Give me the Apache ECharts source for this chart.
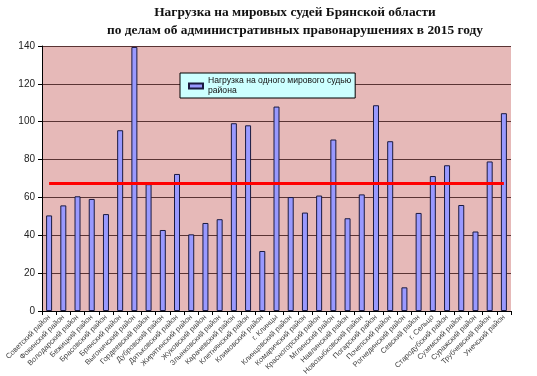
<!DOCTYPE html>
<html>
<head>
<meta charset="utf-8">
<script src="https://cdn.jsdelivr.net/npm/echarts@6/dist/echarts.min.js"></script>
<style>
  html, body { margin: 0; padding: 0; background: #fff; }
  #chart { width: 537px; height: 376px; }
</style>
</head>
<body>
<div id="chart"></div>
<script>
// районы
const districts = [
  'Советский район', 'Фокинский район', 'Володарский район', 'Бежицкий район',
  'Брасовский район', 'Брянский район', 'Выгоничский район', 'Гордеевский район',
  'Дубровский район', 'Дятьковский район', 'Жирятинский район', 'Жуковский район',
  'Злынковский район', 'Карачевский район', 'Клетнянский район', 'Климовский район',
  'г. Клинцы', 'Клинцовский район', 'Комаричский район', 'Красногорский район',
  'Мглинский район', 'Навлинский район', 'Новозыбковский район', 'Погарский район',
  'Почепский район', 'Рогнединский район', 'Севский район', 'г. Сельцо',
  'Стародубский район', 'Суземский район', 'Суражский район', 'Трубчевский район',
  'Унечский район'
]
// нагрузка на одного мирового судью
const loadValues = [
  50.5, 55.8, 60.6, 59.2, 51.2, 95.5, 139.5, 67, 42.8, 72.4,
  40.5, 46.5, 48.5, 99.2, 98.1, 31.7, 108, 60.2, 52, 61,
  90.6, 49, 61.6, 108.7, 89.7, 12.5, 51.8, 71.3, 77, 56,
  42, 79, 104.5
]
// средняя нагрузка по области
const averageLoad = 67.4
const yTicks = { min: 0, max: 140, interval: 20 }

const chart = echarts.init(document.getElementById('chart'))

const option = {
  animation: false,
  title: {
    text: 'Нагрузка на мировых судей Брянской области\nпо делам об административных правонарушениях в 2015 году',
    left: 290,
    top: -1,
    textAlign: 'center',
    textStyle: {
      fontFamily: 'Liberation Serif',
      fontSize: 13.4,
      fontWeight: 'bold',
      color: '#111',
      lineHeight: 18
    }
  },
  legend: {
    data: ['Нагрузка на одного мирового судью района'],
    left: 180,
    top: 73,
    orient: 'vertical',
    backgroundColor: '#ccffff',
    borderColor: '#000',
    borderWidth: 1,
    borderRadius: 0,
    padding: [3, 4, 2, 8],
    itemWidth: 14,
    itemHeight: 5,
    itemGap: 0,
    icon: 'rect',
    formatter: () => 'Нагрузка на одного мирового судью\nрайона',
    textStyle: { fontFamily: 'Liberation Sans', fontSize: 8.6, color: '#111', lineHeight: 10 }
  },
  grid: {
    left: 42,
    right: 26,
    top: 46,
    bottom: 65,
    outerBoundsMode: 'none',
    containLabel: false,
    show: true,
    backgroundColor: '#e6b9b8',
    borderWidth: 0
  },
  xAxis: {
    type: 'category',
    data: districts,
    boundaryGap: true,
    axisLine: { lineStyle: { color: '#000', width: 1 } },
    axisTick: { show: true, length: 4, lineStyle: { color: '#000' } },
    axisLabel: {
      rotate: 45,
      interval: 0,
      fontFamily: 'Liberation Sans',
      fontSize: 7.5,
      color: '#444',
      margin: 5
    }
  },
  yAxis: {
    type: 'value',
    min: yTicks.min,
    max: yTicks.max,
    interval: yTicks.interval,
    axisLine: { show: true, lineStyle: { color: '#000', width: 1 } },
    axisTick: { show: true, length: 4, lineStyle: { color: '#000' } },
    axisLabel: {
      fontFamily: 'Liberation Sans',
      fontSize: 10,
      color: '#222',
      margin: 7
    },
    splitLine: { show: true, lineStyle: { color: '#5a3434', width: 1 } }
  },
  series: [
    {
      name: 'Нагрузка на одного мирового судью района',
      type: 'bar',
      data: loadValues,
      barWidth: 6,
      itemStyle: {
        color: '#9999ff',
        borderColor: '#1a1a40',
        borderWidth: 1
      }
    },
    {
      name: 'Средняя',
      type: 'line',
      data: loadValues.map(() => averageLoad),
      symbol: 'none',
      lineStyle: { color: '#ff0000', width: 3 },
      z: 5
    }
  ]
}

chart.setOption(option)
</script>
</body>
</html>
